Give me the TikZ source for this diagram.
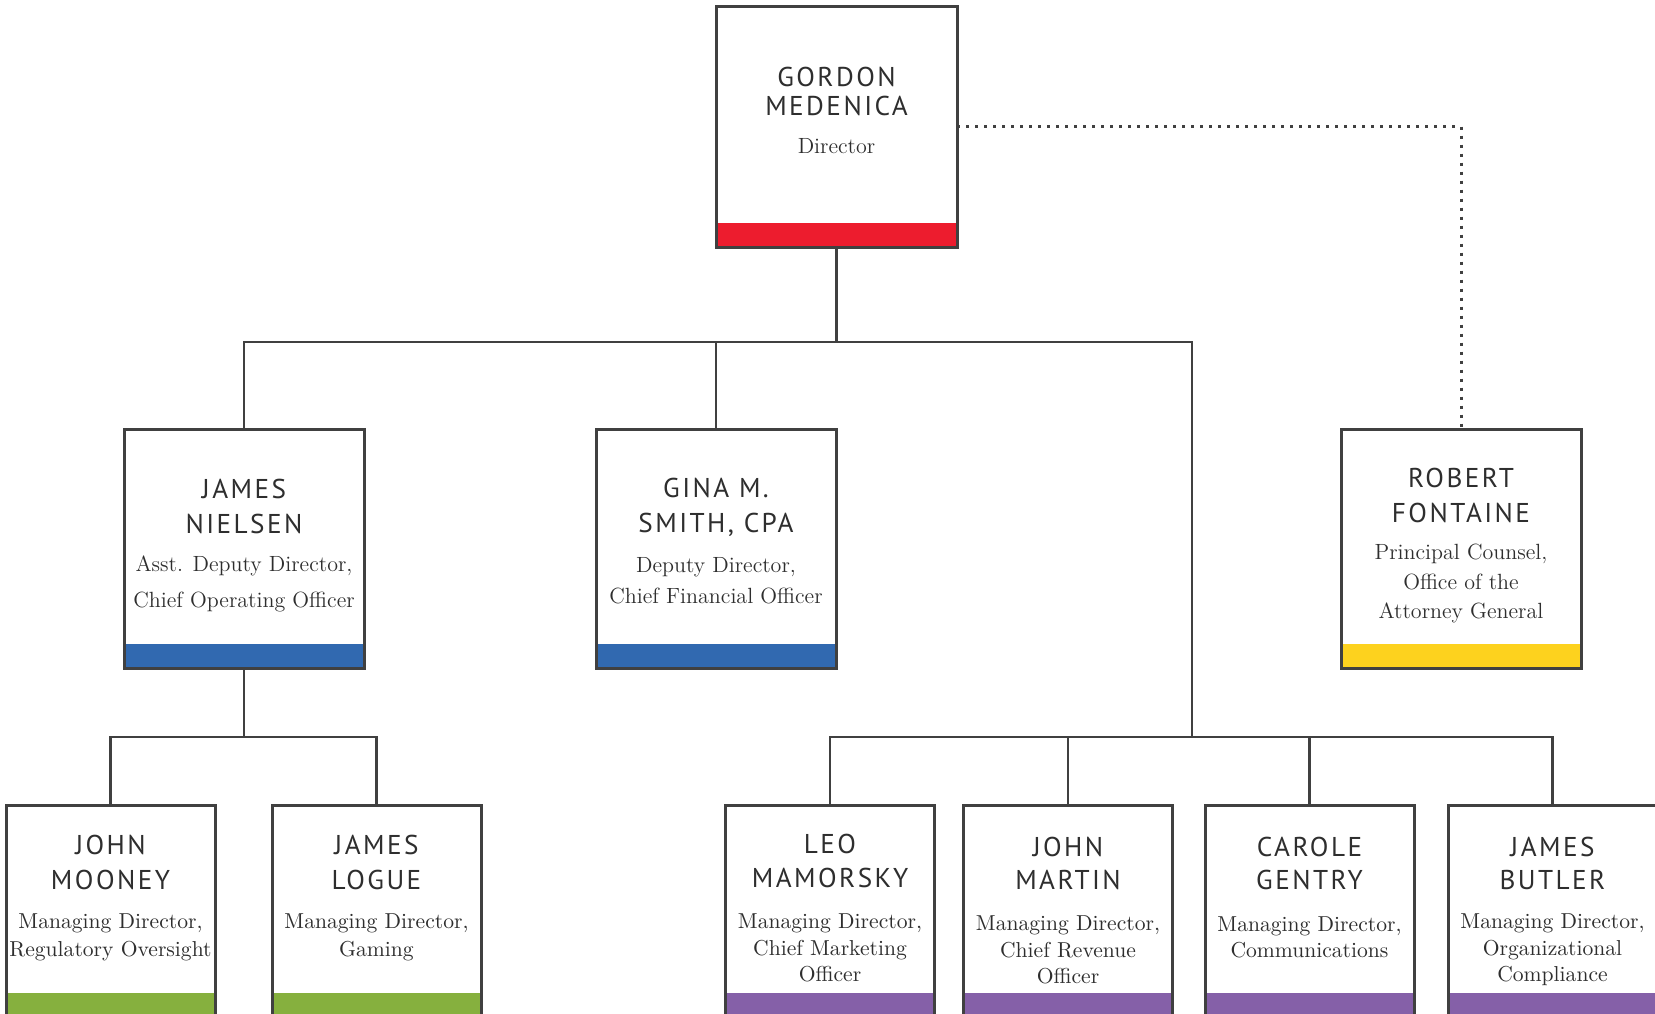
\documentclass[tikz,border=0pt]{standalone}
\usepackage{fontspec}
\newfontfamily\namefont[LetterSpace=9]{PT Sans}
\definecolor{linecol}{HTML}{404040}
\definecolor{textcol}{HTML}{2E2E2E}
\definecolor{bandred}{HTML}{ED1C2E}
\definecolor{bandblue}{HTML}{3169B0}
\definecolor{bandyellow}{HTML}{FDD21E}
\definecolor{bandgreen}{HTML}{86B03E}
\definecolor{bandpurple}{HTML}{8560A8}
\tikzset{
  box/.style={draw=linecol, line width=1.5pt, fill=white, inner sep=0pt, outer sep=0pt,
    path picture={\fill[#1] ([yshift=12pt]path picture bounding box.south west) rectangle (path picture bounding box.south east);}},
  bigbox/.style={box=#1, minimum width=120pt, minimum height=119.5pt},
  smallbox/.style={box=#1, minimum width=104.5pt, minimum height=106pt},
  nm/.style={font=\namefont\fontsize{13.6pt}{#1}\selectfont, align=center, inner sep=0pt, text=textcol},
  rl/.style={font=\fontsize{11pt}{#1}\selectfont, align=center, inner sep=0pt, text=textcol},
  rls/.style={font=\fontsize{10.8pt}{#1}\selectfont, align=center, inner sep=0pt, text=textcol},
  conn/.style={draw=linecol, line width=1.3pt},
  dotline/.style={draw=linecol, line width=1.5pt, dash pattern=on 1.5pt off 3pt}
}
\begin{document}
\begin{tikzpicture}[x=0.5pt, y=-0.5pt]
\useasboundingbox (0,0) rectangle (1655,1013);
\clip (0,0) rectangle (1655,1013);
\fill[white] (0,0) rectangle (1655,1013);

% boxes
\node[box=bandred, minimum width=120.5pt, minimum height=120.5pt] (gordon) at (836.5,126.5) {};
\node[bigbox=bandblue] (nielsen) at (244,548.5) {};
\node[bigbox=bandblue] (gina) at (716,548.5) {};
\node[bigbox=bandyellow] (robert) at (1461,548.5) {};
\node[smallbox=bandgreen] (mooney) at (110.5,911) {};
\node[smallbox=bandgreen] (logue) at (376.5,911) {};
\node[smallbox=bandpurple] (leo) at (830,911) {};
\node[smallbox=bandpurple] (martin) at (1068,911) {};
\node[smallbox=bandpurple] (carole) at (1309.5,911) {};
\node[smallbox=bandpurple] (butler) at (1552.5,911) {};

% bus levels
\coordinate (bus2) at (0,342);
\coordinate (bus3) at (0,737);
\coordinate (rdrop) at (1192,342);

% connectors
\draw[conn] (gordon.south) -- (gordon.south |- bus2);
\draw[conn] (nielsen.north) |- (rdrop) -- (rdrop |- bus3);
\draw[conn] (gina.north) -- (gina.north |- bus2);
\draw[conn] (nielsen.south) -- (nielsen.south |- bus3);
\draw[conn] (mooney.north) |- (logue.north |- bus3) -- (logue.north);
\draw[conn] (leo.north) |- (butler.north |- bus3) -- (butler.north);
\draw[conn] (martin.north) -- (martin.north |- bus3);
\draw[conn] (carole.north) -- (carole.north |- bus3);
\draw[dotline] (gordon.east) -| (robert.north);

% texts
\node[nm=14.25pt] (gordonN) at (836.5,91.3) {GORDON\\MEDENICA};
\node[rl=13pt] (gordonR) at (836.5,145.7) {Director};

\node[nm=17.4pt] (nielsenN) at (244,506.5) {JAMES\\NIELSEN};
\node[rl=18pt] (nielsenR) at (244,584.2) {Asst. Deputy Director,\\Chief Operating Officer};

\node[nm=17.4pt] (ginaN) at (716,507.5) {GINA M.\\SMITH, CPA};
\node[rl=15.8pt] (ginaR) at (716,580.6) {Deputy Director,\\Chief Financial Officer};

\node[nm=17.5pt] (robertN) at (1461,495.6) {ROBERT\\FONTAINE};
\node[rl=14.8pt] (robertR) at (1461,583.7) {Principal Counsel,\\Office of the\\Attorney General};

\node[nm=17.4pt] (mooneyN) at (110.5,862.5) {JOHN\\MOONEY};
\node[rls=14pt] (mooneyR) at (110.5,937.8) {Managing Director,\\Regulatory Oversight};

\node[nm=17.4pt] (logueN) at (376.5,862.5) {JAMES\\LOGUE};
\node[rls=14pt] (logueR) at (376.5,937.8) {Managing Director,\\Gaming};

\node[nm=16.9pt] (leoN) at (830,861.3) {LEO\\MAMORSKY};
\node[rls=13.2pt] (leoR) at (830,947.9) {Managing Director,\\Chief Marketing\\Officer};

\node[nm=16.9pt] (martinN) at (1068,863.4) {JOHN\\MARTIN};
\node[rls=13.2pt] (martinR) at (1068,950) {Managing Director,\\Chief Revenue\\Officer};

\node[nm=16.9pt] (caroleN) at (1309.5,863.4) {CAROLE\\GENTRY};
\node[rls=13.2pt] (caroleR) at (1309.5,937.3) {Managing Director,\\Communications};

\node[nm=16.9pt] (butlerN) at (1552.5,863.4) {JAMES\\BUTLER};
\node[rls=13.2pt] (butlerR) at (1552.5,950) {Managing Director,\\Organizational\\Compliance};
\end{tikzpicture}
\end{document}
